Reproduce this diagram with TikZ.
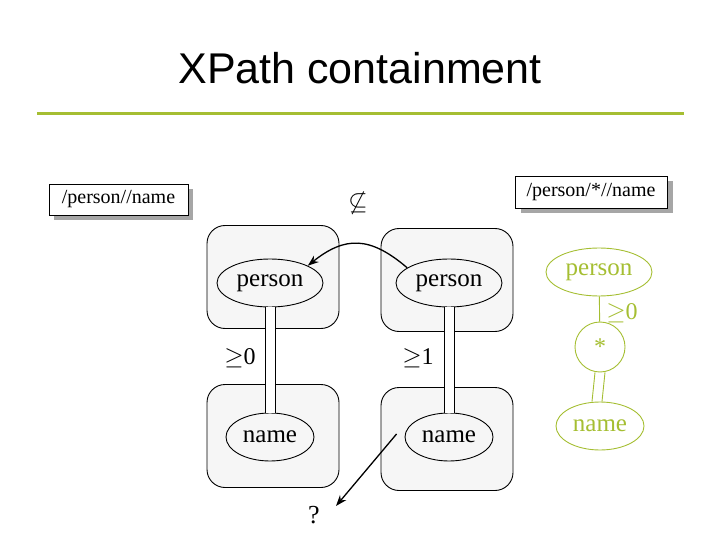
\documentclass[tikz,border=0pt]{standalone}
\usepackage{fontspec}
\setmainfont{Liberation Serif}
\newfontfamily\sans{Liberation Sans}
\usepackage{amssymb}
\usetikzlibrary{shapes.geometric,arrows.meta}
\definecolor{lime}{RGB}{165,190,50}
\begin{document}
\begin{tikzpicture}[x=1pt,y=-1pt,line width=0.9pt,
  grp/.style={draw,fill=gray!7,rounded corners=18pt,minimum width=132pt,minimum height=103pt},
  el/.style={draw,ellipse,inner sep=0pt,font=\fontsize{25}{28}\selectfont},
  gel/.style={el,draw=lime,text=lime},
  lbl/.style={draw,fill=white,font=\fontsize{20}{22}\selectfont,inner sep=4pt},
  arr/.style={-{Stealth[length=11pt,width=8pt]},line width=1.3pt}]
\useasboundingbox (0,0) rectangle (720,540);
\node[font=\sans\fontsize{43}{46}\selectfont] (title) at (360,68) {XPath containment};
\draw[lime,line width=3pt] (37,114) coordinate (l1) -- (684,114) coordinate (l2);
% label boxes with shadows
\fill[gray!70] (54,189) rectangle (193,220);
\node[lbl,minimum width=139pt,minimum height=31pt] (q1) at (118.5,199.5) {/person//name};
\fill[gray!70] (521,181) rectangle (673,213);
\node[lbl,minimum width=152pt,minimum height=32pt] (q2) at (591,192) {/person/*//name};
\node[font=\fontsize{30}{32}\selectfont] (nsub) at (358,203) {$\not\subseteq$};
% groups
\node[grp] (g1) at (273,277) {};
\node[grp] (g2) at (447,280) {};
\node[grp] (g3) at (273,436) {};
\node[grp] (g4) at (447,439) {};
\node[el,minimum width=106pt,minimum height=48pt] (p1) at (270,283) {person};
\node[el,minimum width=106pt,minimum height=48pt] (p2) at (449,283) {person};
\node[el,minimum width=88pt,minimum height=48pt] (n1) at (270,437) {name};
\node[el,minimum width=88pt,minimum height=48pt] (n2) at (449,437) {name};
\fill[white] ([xshift=-5pt]p1.south) rectangle ([xshift=5pt]n1.north);
\draw ([xshift=-5pt]p1.south) -- ([xshift=-5pt]n1.north);
\draw ([xshift=5pt]p1.south) -- ([xshift=5pt]n1.north);
\fill[white] ([xshift=-5pt]p2.south) rectangle ([xshift=5pt]n2.north);
\draw ([xshift=-5pt]p2.south) -- ([xshift=-5pt]n2.north);
\draw ([xshift=5pt]p2.south) -- ([xshift=5pt]n2.north);
\node[font=\fontsize{24}{26}\selectfont] (c1) at (240,358) {$\geq$0};
\node[font=\fontsize{24}{26}\selectfont] (c2) at (418,358) {$\geq$1};
\draw[arr] (p2.160) .. controls (370,236) and (345,236) .. (p1.north east);
\coordinate (qm) at (336,506);
\draw[arr] ([xshift=-8pt,yshift=3pt]n2.west) -- (qm);
\node[font=\fontsize{26}{28}\selectfont] (q) at (314,515) {?};
% green tree
\node[gel,minimum width=106pt,minimum height=48pt] (gp) at (599,272) {person};
\node[draw=lime,circle,minimum size=50pt,text=lime,font=\fontsize{24}{26}\selectfont,inner sep=0pt] (gs) at (600,347) {*};
\node[gel,minimum width=88pt,minimum height=48pt] (gn) at (600,426) {name};
\draw[lime] (gp) -- (gs);
\draw[lime] ([xshift=-5pt]gs.south) -- ([xshift=-8pt]gn.north);
\draw[lime] ([xshift=5pt]gs.south) -- ([xshift=2pt]gn.north);
\node[text=lime,font=\fontsize{24}{26}\selectfont] (gc) at (622,313) {$\geq$0};
\end{tikzpicture}
\end{document}
